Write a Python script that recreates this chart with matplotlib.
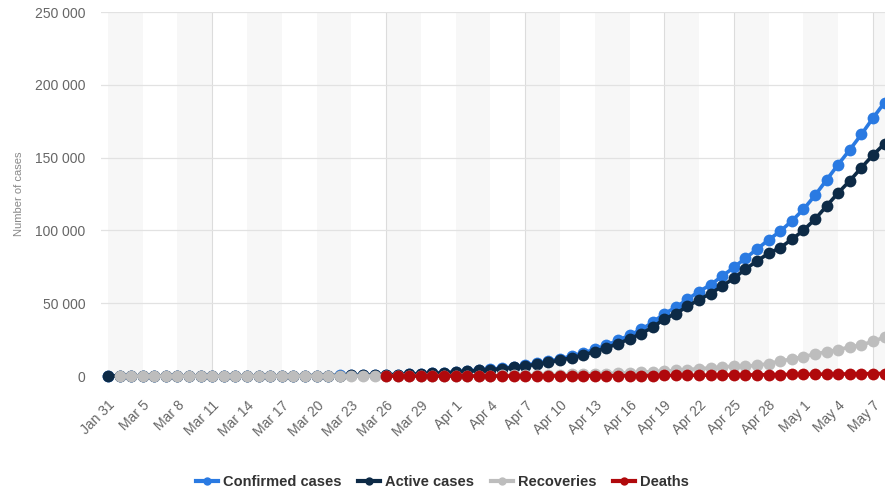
import numpy as np
import matplotlib
matplotlib.use("Agg")
import matplotlib.pyplot as plt
import matplotlib.ticker as mticker

plt.rcParams["font.family"] = ["Liberation Sans", "DejaVu Sans"]

# ── Data ──────────────────────────────────────────────────────────────────────
dates = (
    ["Jan 31", "Mar 3", "Mar 4"]
    + [f"Mar {d}" for d in range(5, 32)]
    + [f"Apr {d}" for d in range(1, 31)]
    + [f"May {d}" for d in range(1, 9)]
)

confirmed = [
    2, 3, 3, 4, 10, 14, 17, 17, 20, 28, 34, 45, 59, 63, 93, 114, 147, 199, 253,
    306, 367, 438, 495, 658, 840, 1036, 1264, 1534, 1836, 2337, 2777, 3548,
    4149, 4731, 5389, 6343, 7497, 8672, 10131, 11917, 13584, 15770, 18328,
    21102, 24490, 27938, 32008, 36793, 42853, 47121, 52763, 57999, 62773,
    68622, 74588, 80949, 87147, 93558, 99399, 106498, 114431, 124054, 134687,
    145268, 155370, 165929, 177160, 187859,
]

active = [
    2, 3, 3, 4, 10, 14, 17, 17, 20, 28, 34, 45, 59, 63, 88, 109, 142, 191, 244,
    294, 351, 421, 473, 620, 799, 987, 1199, 1462, 1761, 2199, 2563, 3283,
    3834, 4355, 4989, 5890, 6945, 8029, 9357, 11028, 12433, 14403, 16710,
    19238, 22306, 25402, 29145, 33423, 39201, 42843, 47887, 52461, 56650,
    61794, 67140, 73435, 79007, 84235, 88141, 93806, 100042, 107701, 116768,
    125817, 134054, 143065, 151732, 159528,
]

recoveries = [
    np.nan, 0, 0, 0, 0, 0, 0, 0, 0, 0, 0, 0, 0, 0, 5, 5, 5, 8, 9, 12, 16, 17,
    22, 38, 38, 45, 61, 64, 66, 121, 190, 235, 281, 333, 355, 406, 494, 580,
    698, 795, 1045, 1237, 1470, 1694, 1986, 2304, 2590, 3057, 3291, 3873,
    4420, 5025, 5568, 6213, 6767, 6767, 7346, 8456, 10286, 11619, 13220,
    15131, 16639, 18095, 19865, 21327, 23803, 26608,
]

deaths = [np.nan] * 24 + [
    3, 4, 4, 8, 9, 17, 24, 30, 34, 43, 45, 47, 58, 63, 76, 94, 106, 130, 148,
    170, 198, 232, 273, 313, 361, 405, 456, 513, 555, 615, 681, 747, 794, 867,
    972, 1073, 1169, 1222, 1280, 1356, 1451, 1537, 1625, 1723,
]

series = [
    ("Confirmed cases", confirmed, "#2a7ae2"),
    ("Active cases", active, "#0d2a46"),
    ("Recoveries", recoveries, "#bdbdbd"),
    ("Deaths", deaths, "#b0090c"),
]

# ── Figure ────────────────────────────────────────────────────────────────────
fig = plt.figure(figsize=(8.85, 4.93), dpi=100)
ax = fig.add_axes([0.1141, 0.2373, 0.8859, 0.7383])
x = np.arange(len(dates))

# alternating background bands every 3 categories
for start in range(0, len(dates), 6):
    ax.axvspan(start, start + 3, color="#f7f7f7", lw=0, zorder=0)
for idx in (9, 24, 36, 48, 54, 66):
    ax.axvline(idx, color="#dcdcdc", lw=0.8, zorder=0.5)

ax.set_ylim(0, 250000)
ax.set_xlim(-0.6, 67.04)
ax.set_yticks(range(0, 250001, 50000))
ax.yaxis.set_major_formatter(
    mticker.FuncFormatter(lambda v, _: f"{v:,.0f}".replace(",", " "))
)
ax.grid(axis="y", color="#e2e2e2", lw=0.9, zorder=0.6)

for label, vals, color in series:
    ax.plot(
        x, vals, color=color, lw=2.6, marker="o", markersize=8.5,
        markeredgewidth=0, label=label, clip_on=False, zorder=3,
    )

ax.set_xticks(x[::3])
ax.set_xticklabels(dates[::3], rotation=45, ha="right", rotation_mode="anchor")
ax.tick_params(axis="x", length=0, pad=16, labelsize=10, colors="#666666")
ax.tick_params(axis="y", length=0, pad=11, labelsize=10, colors="#666666")
for s in ax.spines.values():
    s.set_visible(False)

ax.set_ylabel("Number of cases", fontsize=8, color="#888888", labelpad=8)

leg = fig.legend(
    loc="center", bbox_to_anchor=(0.5, 0.022), ncol=4, frameon=False,
    handlelength=1.5, columnspacing=1.15, handletextpad=0.35,
    prop={"size": 10.5, "weight": "bold"},
)
for t in leg.get_texts():
    t.set_color("#333333")
for h in leg.legend_handles:
    h.set_markersize(6)
    h.set_linewidth(3)

fig.savefig("out.png", dpi=100, facecolor="white")
